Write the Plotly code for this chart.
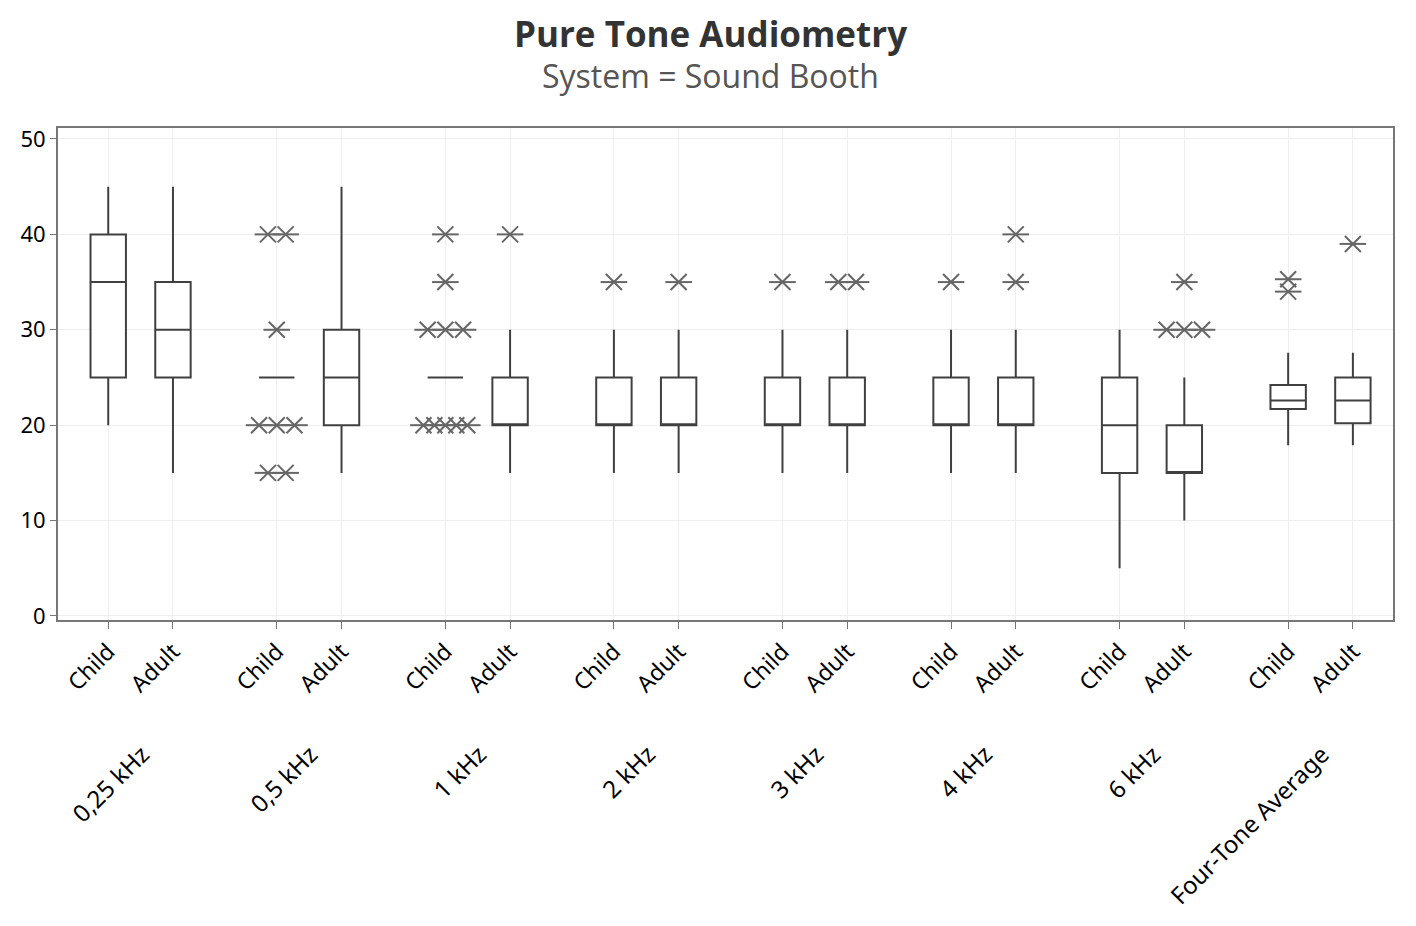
import plotly.graph_objects as go

# ----------------
# DATA
# ----------------
groups = ["0,25 kHz", "0,5 kHz", "1 kHz", "2 kHz", "3 kHz", "4 kHz", "6 kHz", "Four-Tone Average"]
subgroups = ["Child", "Adult"]

# one value per box, order: group0 Child, group0 Adult, group1 Child, ...
q1 = [25, 25, 25, 20, 25, 20, 20, 20, 20, 20, 20, 20, 15, 15, 21.7, 20.2]
median = [35, 30, 25, 25, 25, 20, 20, 20, 20, 20, 20, 20, 20, 15, 22.6, 22.6]
q3 = [40, 35, 25, 30, 25, 25, 25, 25, 25, 25, 25, 25, 25, 20, 24.2, 25]
lower = [20, 15, 25, 15, 25, 15, 15, 15, 15, 15, 15, 15, 5, 10, 17.9, 17.9]
upper = [45, 45, 25, 45, 25, 30, 30, 30, 30, 30, 30, 30, 30, 25, 27.6, 27.6]

# outliers per box (same order as above)
outliers = [
    [], [],
    [40, 40, 30, 20, 20, 20, 15, 15], [],
    [40, 35, 30, 30, 30, 20, 20, 20, 20, 20], [40],
    [35], [35],
    [35], [35, 35],
    [35], [40, 35],
    [], [35, 30, 30, 30],
    [35.3, 34.0], [39],
]

y_ticks = [0, 10, 20, 30, 40, 50]

# ----------------
# POSITIONS
# ----------------
sub_offset = 0.192
box_width = 0.21

positions = []
labels = []
for gi, g in enumerate(groups):
    for si, s in enumerate(subgroups):
        positions.append(gi + (-sub_offset if si == 0 else sub_offset))
        labels.append(s)

# spread repeated outliers sideways like Minitab does
out_x = []
out_y = []
for pos, vals in zip(positions, outliers):
    counts = {}
    for v in vals:
        counts[v] = counts.get(v, 0) + 1
    for v, n in counts.items():
        step = 0.105 if n <= 1 else min(0.105, 0.26 / (n - 1))
        for k in range(n):
            out_x.append(pos + (k - (n - 1) / 2) * step)
            out_y.append(v)

line_col = "#404040"
out_col = "#666666"
label_font = "Noto Sans"

fig = go.Figure()

fig.add_trace(go.Box(
    x=positions,
    q1=q1,
    median=median,
    q3=q3,
    lowerfence=lower,
    upperfence=upper,
    width=box_width,
    whiskerwidth=0,
    boxpoints=False,
    fillcolor="white",
    line=dict(color=line_col, width=2),
    showlegend=False,
    hoverinfo="y",
))

# Minitab asterisk = X plus a horizontal bar
fig.add_trace(go.Scatter(
    x=out_x, y=out_y, mode="markers",
    marker=dict(symbol="x-thin-open", size=16, color=out_col,
                line=dict(color=out_col, width=2)),
    showlegend=False, hoverinfo="skip",
))
fig.add_trace(go.Scatter(
    x=out_x, y=out_y, mode="markers",
    marker=dict(symbol="line-ew-open", size=19, color=out_col,
                line=dict(color=out_col, width=2)),
    showlegend=False,
))

# group labels under the Child/Adult ticks
for gi, g in enumerate(groups):
    fig.add_annotation(
        x=gi + 0.105, y=-0.233, xref="x", yref="paper",
        text=g, textangle=-45, showarrow=False,
        xanchor="right", yanchor="top",
        font=dict(family=label_font, size=24, color="black"),
    )

# title and subtitle (centred on the page, not on the plot area)
fig.add_annotation(
    x=0.489, y=1.193, xref="paper", yref="paper", text="<b>Pure Tone Audiometry</b>",
    showarrow=False, yanchor="middle",
    font=dict(family="Open Sans", size=35, color="#333333"),
)
fig.add_annotation(
    x=0.489, y=1.106, xref="paper", yref="paper", text="System = Sound Booth",
    showarrow=False, yanchor="middle",
    font=dict(family="Open Sans", size=32, color="#555555"),
)

# page has an 8px body margin, so the figure is drawn 16px smaller
fig.update_layout(
    width=1400,
    height=910,
    margin=dict(l=44, r=15, t=120, b=298),
    paper_bgcolor="white",
    plot_bgcolor="white",
    font=dict(family=label_font, size=22, color="black"),
    xaxis=dict(
        range=[-0.49, 7.43],
        tickmode="array",
        tickvals=positions,
        ticktext=labels,
        tickangle=-45,
        tickfont=dict(size=23),
        ticks="outside",
        ticklen=7,
        tickcolor="#777777",
        showgrid=True,
        gridcolor="#eeeeee",
        zeroline=False,
        showline=True,
        linecolor="#777777",
        linewidth=2,
        mirror=True,
    ),
    yaxis=dict(
        range=[-0.42, 51.15],
        tickmode="array",
        tickvals=y_ticks,
        ticks="outside",
        ticklen=6,
        tickcolor="#777777",
        showgrid=True,
        gridcolor="#eeeeee",
        zeroline=False,
        showline=True,
        linecolor="#777777",
        linewidth=2,
        mirror=True,
    ),
)

fig.write_html("out.html")
